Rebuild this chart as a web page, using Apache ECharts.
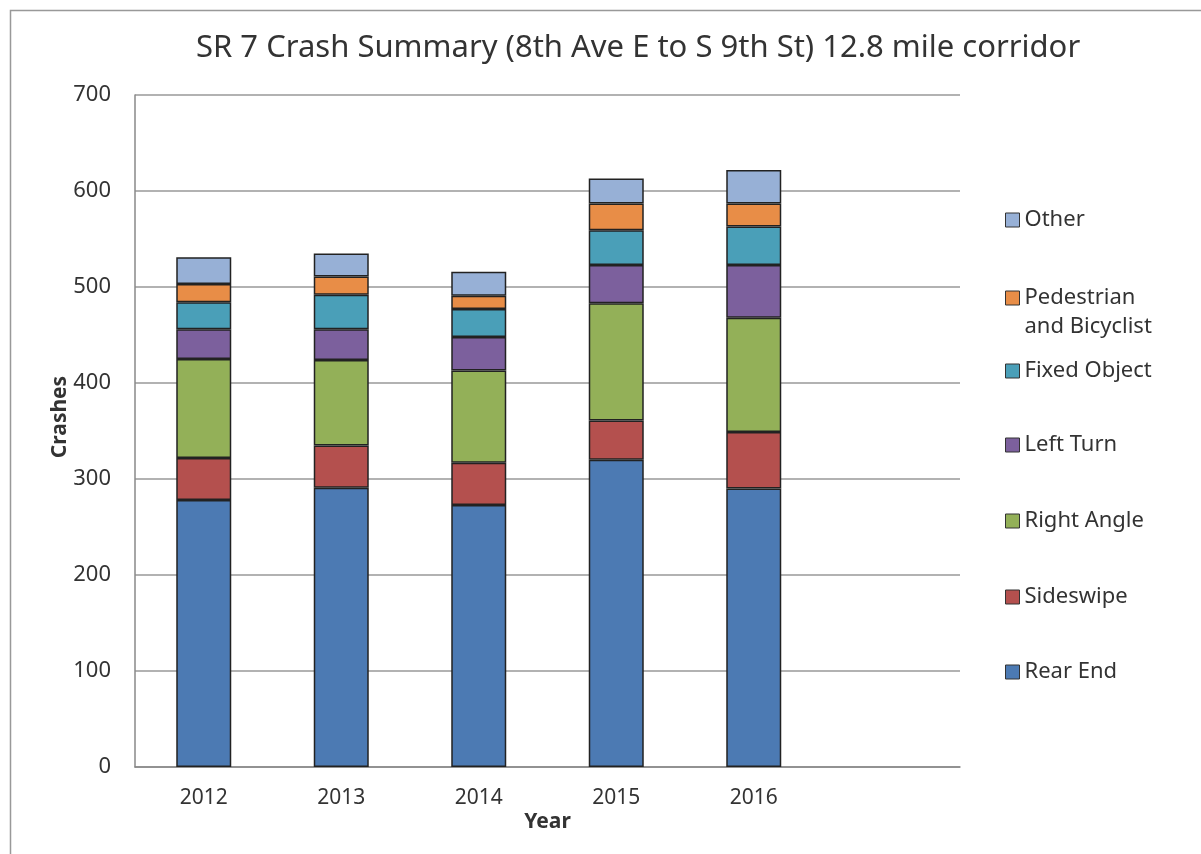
<!DOCTYPE html>
<html>
<head>
<meta charset="utf-8">
<script src="https://cdn.jsdelivr.net/npm/echarts@6/dist/echarts.min.js"></script>
<style>
html,body{margin:0;padding:0;background:#fff;}
#c{width:1201px;height:854px;}
</style>
</head>
<body>
<div id="c"></div>
<script>
const years = ['2012', '2013', '2014', '2015', '2016', ''];
const rearEnd    = [278, 291, 273, 320, 290, null];
const sideswipe  = [44, 44, 44, 41, 59, null];
const rightAngle = [103, 89, 96, 122, 119, null];
const leftTurn   = [31, 32, 35, 40, 55, null];
const fixedObj   = [28, 36, 29, 36, 40, null];
const pedBike    = [19, 19, 14, 28, 24, null];
const other      = [28, 24, 25, 26, 35, null];
const yTicks = [0, 100, 200, 300, 400, 500, 600, 700];

const seriesDefs = [
  {name: 'Rear End', data: rearEnd, color: '#4C7AB3'},
  {name: 'Sideswipe', data: sideswipe, color: '#B4504E'},
  {name: 'Right Angle', data: rightAngle, color: '#93B058'},
  {name: 'Left Turn', data: leftTurn, color: '#7C609D'},
  {name: 'Fixed Object', data: fixedObj, color: '#4A9FB8'},
  {name: 'Pedestrian and Bicyclist', data: pedBike, color: '#E88D47'},
  {name: 'Other', data: other, color: '#97B0D6'}
];

const FONT = 'Noto Sans';
const legendCenters = {
  'Other': 218, 'Pedestrian and Bicyclist': 296, 'Fixed Object': 369,
  'Left Turn': 443, 'Right Angle': 519, 'Sideswipe': 595, 'Rear End': 670
};

const legends = seriesDefs.map(s => {
  const isPed = s.name === 'Pedestrian and Bicyclist';
  return {
    data: [s.name],
    left: 1000,
    top: isPed ? legendCenters[s.name] - 46.5 : legendCenters[s.name] - 16,
    itemWidth: 14,
    itemHeight: 14,
    itemGap: 6,
    icon: 'rect',
    selectedMode: false,
    itemStyle: {borderColor: '#333', borderWidth: 1},
    formatter: n => isPed ? '\u00a0\nPedestrian\nand Bicyclist' : n,
    textStyle: {
      fontFamily: FONT, fontSize: 22, color: '#333', lineHeight: isPed ? 29 : 26
    }
  };
});

const chart = echarts.init(document.getElementById('c'), null, {renderer: 'canvas'});
chart.setOption({
  backgroundColor: '#fff',
  animation: false,
  title: {
    text: 'SR 7 Crash Summary (8th Ave E to S 9th St) 12.8 mile corridor',
    left: 191, top: 28,
    textStyle: {fontFamily: FONT, fontSize: 31, fontWeight: 'normal', color: '#333'}
  },
  graphic: [{
    type: 'rect', left: 8, top: 8, z: -1,
    shape: {x: 0, y: 0, width: 1220, height: 880},
    style: {fill: 'none', stroke: '#999', lineWidth: 1.5}
  }],
  legend: legends,
  grid: {left: 135, right: 241, top: 95, bottom: 87, containLabel: false},
  xAxis: {
    type: 'category', data: years,
    name: 'Year', nameLocation: 'middle', nameGap: 45, nameMoveOverlap: false,
    nameTextStyle: {fontFamily: FONT, fontSize: 21, fontWeight: 'bold', color: '#333'},
    axisLine: {lineStyle: {color: '#888', width: 1.5}},
    axisTick: {show: false},
    axisLabel: {fontFamily: FONT, fontSize: 21, color: '#333', margin: 21}
  },
  yAxis: {
    type: 'value', min: 0, max: 700, interval: 100,
    name: 'Crashes', nameLocation: 'middle', nameGap: 64, nameMoveOverlap: false,
    nameTextStyle: {fontFamily: FONT, fontSize: 21, fontWeight: 'bold', color: '#333', padding: [0, 0, 0, 28]},
    axisLine: {show: true, lineStyle: {color: '#888', width: 1.5}},
    axisTick: {show: false},
    splitLine: {lineStyle: {color: '#999', width: 1.5}},
    axisLabel: {fontFamily: FONT, fontSize: 22, color: '#333', margin: 24,
      formatter: v => yTicks.includes(v) ? String(v) : ''}
  },
  series: seriesDefs.map(s => ({
    name: s.name, type: 'bar', stack: 'total', data: s.data,
    barWidth: 55,
    itemStyle: {color: s.color, borderColor: '#222', borderWidth: 1.5}
  }))
});
</script>
</body>
</html>
